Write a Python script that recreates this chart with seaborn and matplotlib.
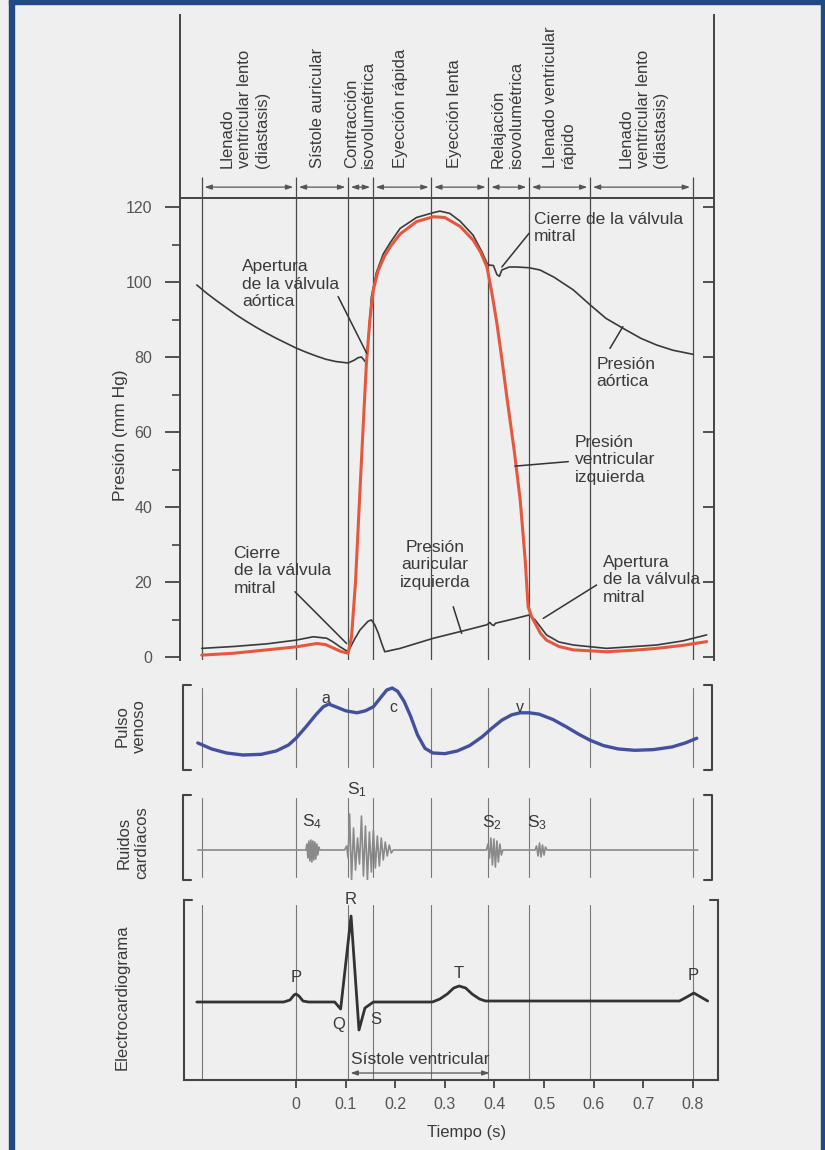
import matplotlib
matplotlib.use("Agg")
import numpy as np
import pandas as pd
import seaborn as sns
import matplotlib.pyplot as plt
from matplotlib.patches import Rectangle

# ---- datos (tiempo en s) ----
limites_fase = [-0.19, 0.0, 0.105, 0.155, 0.273, 0.388, 0.47, 0.593, 0.8]
fases = ["Llenado\nventricular lento\n(diastasis)", "Sístole auricular",
         "Contracción\nisovolumétrica", "Eyección rápida", "Eyección lenta",
         "Relajación\nisovolumétrica", "Llenado ventricular\nrápido",
         "Llenado\nventricular lento\n(diastasis)"]
fases_t = [-0.103, 0.044, 0.129, 0.21, 0.319, 0.426, 0.531, 0.70]

t_aorta = [-0.2, -0.18, -0.16, -0.14, -0.12, -0.1, -0.08, -0.06, -0.04, -0.02, 0.0,
           0.02, 0.04, 0.06, 0.08, 0.105, 0.118, 0.125, 0.132, 0.137, 0.142, 0.146,
           0.152, 0.162, 0.176, 0.19, 0.21, 0.243, 0.277, 0.29, 0.31, 0.331, 0.357,
           0.375, 0.385, 0.39, 0.398, 0.405, 0.41, 0.415, 0.43, 0.445, 0.47, 0.492,
           0.52, 0.559, 0.593, 0.625, 0.66, 0.695, 0.727, 0.76, 0.801]
p_aorta = [99.2, 97.0, 95.0, 93.1, 91.2, 89.5, 87.9, 86.4, 85.0, 83.7, 82.4,
           81.3, 80.3, 79.4, 78.8, 78.4, 79.2, 79.8, 80.0, 79.2, 78.4, 85.0,
           96.0, 102.5, 107.5, 110.5, 114.3, 117.2, 118.5, 118.9, 118.3, 116.2, 112.5,
           108.0, 105.0, 104.5, 104.4, 102.0, 101.5, 103.2, 104.0, 104.0, 103.8, 103.2,
           101.3, 97.9, 93.9, 90.3, 87.6, 85.0, 83.2, 81.8, 80.7]

t_vi = [-0.19, -0.126, -0.059, 0.0, 0.042, 0.06, 0.075, 0.09, 0.105, 0.112, 0.12,
        0.129, 0.136, 0.142, 0.149, 0.156, 0.165, 0.178, 0.19, 0.21, 0.243, 0.277,
        0.3, 0.331, 0.357, 0.372, 0.385, 0.395, 0.405, 0.415, 0.425, 0.44, 0.452,
        0.462, 0.468, 0.475, 0.482, 0.493, 0.505, 0.53, 0.559, 0.626, 0.68, 0.727,
        0.78, 0.828]
p_vi = [0.5, 1.0, 1.9, 2.7, 3.6, 3.3, 2.4, 1.5, 1.0, 5.4, 20.0,
        44.5, 63.0, 78.4, 90.0, 97.9, 102.8, 106.8, 109.4, 112.8, 116.1, 117.4,
        117.2, 114.8, 111.2, 108.0, 104.0, 97.0, 89.0, 79.5, 69.4, 55.0, 41.9,
        26.0, 13.4, 10.8, 9.0, 6.3, 4.5, 2.8, 1.9, 1.4, 1.8, 2.3,
        3.1, 4.1]

t_ai = [-0.19, -0.126, -0.059, 0.0, 0.035, 0.062, 0.075, 0.089, 0.105, 0.117, 0.129,
        0.145, 0.152, 0.159, 0.166, 0.173, 0.179, 0.21, 0.277, 0.344, 0.385, 0.391,
        0.395, 0.399, 0.402, 0.44, 0.47, 0.482, 0.505, 0.53, 0.559, 0.626, 0.727,
        0.78, 0.828]
p_ai = [2.3, 2.8, 3.5, 4.5, 5.4, 5.0, 4.0, 2.7, 1.4, 4.5, 7.2,
        9.5, 9.9, 8.5, 6.3, 3.5, 1.4, 2.3, 5.0, 7.2, 8.6, 9.2,
        8.6, 8.4, 9.0, 10.2, 11.2, 9.9, 5.9, 4.0, 3.2, 2.3, 3.2,
        4.3, 5.9]

t_venoso = [-0.198, -0.17, -0.14, -0.107, -0.07, -0.04, -0.015, 0.0, 0.02, 0.04, 0.055,
            0.066, 0.08, 0.1, 0.123, 0.14, 0.156, 0.17, 0.183, 0.194, 0.205, 0.218,
            0.231, 0.245, 0.26, 0.276, 0.3, 0.325, 0.35, 0.375, 0.395, 0.415, 0.435,
            0.452, 0.47, 0.49, 0.518, 0.545, 0.57, 0.593, 0.62, 0.65, 0.683, 0.72,
            0.758, 0.785, 0.808]
v_venoso = [0.18, 0.09, 0.03, 0.0, 0.01, 0.06, 0.15, 0.25, 0.42, 0.6, 0.72,
            0.76, 0.72, 0.66, 0.63, 0.66, 0.72, 0.85, 0.97, 1.0, 0.95, 0.8,
            0.58, 0.3, 0.1, 0.03, 0.02, 0.06, 0.14, 0.27, 0.40, 0.52, 0.6,
            0.63, 0.63, 0.61, 0.53, 0.42, 0.31, 0.22, 0.14, 0.09, 0.07, 0.08,
            0.12, 0.18, 0.25]

t_ruidos = [-0.198, 0.02, 0.022, 0.024, 0.026, 0.028, 0.03, 0.032, 0.034, 0.036, 0.038,
            0.04, 0.042, 0.044, 0.046, 0.048,
            0.098, 0.102, 0.105, 0.108, 0.112, 0.116, 0.12, 0.124, 0.128, 0.132, 0.136,
            0.14, 0.144, 0.148, 0.152, 0.156, 0.16, 0.164, 0.168, 0.172, 0.176, 0.18,
            0.184, 0.188, 0.192, 0.196,
            0.384, 0.387, 0.39, 0.393, 0.396, 0.399, 0.402, 0.405, 0.408, 0.411, 0.414, 0.417,
            0.482, 0.485, 0.488, 0.491, 0.494, 0.497, 0.5, 0.503, 0.506, 0.81]
a_ruidos = [0, 0, 6, -8, 9, -11, 10, -12, 9, -10, 8,
            -9, 6, -5, 3, 0,
            0, 4, -8, 36, -30, 22, -20, 12, -14, 34, -26,
            24, -30, 18, -22, 20, -18, 14, -16, 12, -10, 8,
            -6, 5, -3, 0,
            0, 6, -8, 12, -15, 11, -17, 9, -12, 6, -5, 0,
            0, 4, -6, 7, -7, 5, -5, 3, 0, 0]

t_ecg = [-0.2, -0.025, -0.012, -0.004, 0.0, 0.006, 0.014, 0.025, 0.078, 0.09, 0.111,
         0.127, 0.139, 0.156, 0.275, 0.29, 0.305, 0.318, 0.329, 0.342, 0.355, 0.37,
         0.382, 0.773, 0.788, 0.802, 0.816, 0.83]
e_ecg = [0, 0, 2, 7, 8, 6, 1, 0, 0, -7, 86,
         -28, -6, 0, 0, 3, 8, 14, 16, 14, 8, 3,
         1, 1, 5, 9, 5, 1]

x_ticks = [0, 0.1, 0.2, 0.3, 0.4, 0.5, 0.6, 0.7, 0.8]

# ---- estilo ----
sns.set_theme(style="white")
plt.rcParams["font.family"] = ["Liberation Sans", "DejaVu Sans"]
plt.rcParams["mathtext.fontset"] = "custom"
plt.rcParams["mathtext.rm"] = "Liberation Sans"
plt.rcParams["mathtext.it"] = "Liberation Sans"

TXT = "#3a3a3a"
GRIS = "#555555"
W, H = 825, 1150
X0, PXS = 296, 496  # pixel de t=0 y pixeles por segundo

fig = plt.figure(figsize=(8.25, 11.5), dpi=100, facecolor="#efefef")
for r in [(9, 0, 816, 4), (9, 0, 5, 1150), (821, 0, 4, 1150)]:
    fig.patches.append(Rectangle((r[0] / W, 1 - (r[1] + r[3]) / H), r[2] / W, r[3] / H,
                                 transform=fig.transFigure, color="#1f4a82", zorder=0))


def panel(x0, x1, y0, y1, ylim):
    ax = fig.add_axes([x0 / W, 1 - y1 / H, (x1 - x0) / W, (y1 - y0) / H])
    ax.set_facecolor("none")
    ax.set_xlim((x0 - X0) / PXS, (x1 - X0) / PXS)
    ax.set_ylim(*ylim)
    for s in ax.spines.values():
        s.set_visible(False)
    ax.set_xticks([])
    ax.set_yticks([])
    return ax


def linea(ax, x, y, **kw):
    sns.lineplot(x=x, y=y, ax=ax, estimator=None, sort=False, legend=False, **kw)
    ax.set_xlabel("")
    ax.set_ylabel("")


# ---- panel de presiones ----
ax = panel(180, 714, 15, 660, ((657 - 660) / 3.75, (657 - 15) / 3.75))
ax.spines["left"].set_visible(True)
ax.spines["right"].set_visible(True)
for s in ("left", "right"):
    ax.spines[s].set_color("#444444")
    ax.spines[s].set_linewidth(1.4)
ax.set_yticks(range(0, 121, 20))
ax.set_yticks(range(10, 120, 20), minor=True)
ax.tick_params(axis="y", which="major", left=True, direction="out", length=11, width=1.3,
               color="#444444", labelsize=11.5, labelcolor=GRIS, pad=9)
ax.tick_params(axis="y", which="minor", left=True, direction="out", length=6, width=1.2,
               color="#444444")
axr = ax.twinx()
axr.set_ylim(ax.get_ylim())
axr.set_yticks(range(0, 121, 20))
axr.set_yticklabels([])
for s in axr.spines.values():
    s.set_visible(False)
axr.tick_params(axis="y", right=True, direction="in", length=8, width=1.3, color="#444444")

ax.axhline(122.4, color="#444444", lw=1.4)
for b in limites_fase:
    ax.vlines(b, -1, 128, color="#4a4a4a", lw=0.9)
for b0, b1 in zip(limites_fase[:-1], limites_fase[1:]):
    ax.annotate("", xy=(b1, 125.3), xytext=(b0, 125.3),
                arrowprops=dict(arrowstyle="<|-|>,head_length=0.35,head_width=0.12",
                                color="#555555", lw=0.9, shrinkA=2, shrinkB=2))
for txt, t in zip(fases, fases_t):
    ax.text(t, 130.4, txt, rotation=90, ha="center", va="bottom", multialignment="left",
            fontsize=12, color=TXT, linespacing=1.2)

linea(ax, t_ai, p_ai, color="#3a3a3a", lw=1.2)
linea(ax, t_aorta, p_aorta, color="#3a3a3a", lw=1.2)
linea(ax, t_vi, p_vi, color="#e4583e", lw=2.2)

notas = [
    ("Apertura\nde la válvula\naórtica", -0.109, 106.1, "left", (0.085, 96.1, 0.1425, 81.0)),
    ("Cierre\nde la válvula\nmitral", -0.126, 29.6, "left", (-0.002, 17.4, 0.102, 3.6)),
    ("Presión\nauricular\nizquierda", 0.28, 31.2, "center", (0.317, 13.4, 0.334, 6.3)),
    ("Cierre de la válvula\nmitral", 0.479, 118.8, "left", (0.47, 113.0, 0.415, 104.0)),
    ("Presión\naórtica", 0.606, 80.0, "left", (0.633, 82.3, 0.659, 88.1)),
    ("Presión\nventricular\nizquierda", 0.5625, 59.2, "left", (0.549, 52.1, 0.4415, 50.9)),
    ("Apertura\nde la válvula\nmitral", 0.618, 27.2, "left", (0.606, 19.2, 0.4985, 10.3)),
]
for txt, t, p, ha, seg in notas:
    ax.text(t, p, txt, ha=ha, va="top", multialignment=ha, fontsize=12.5, color=TXT,
            linespacing=1.2)
    ax.plot([seg[0], seg[2]], [seg[1], seg[3]], color="#333333", lw=1.1)

fig.text(120 / W, 1 - 435 / H, "Presión (mm Hg)", rotation=90, ha="center", va="center",
         fontsize=12.5, color=TXT)


def corchetes(ax):
    d = 8 / (712 - 183)
    kw = dict(transform=ax.transAxes, clip_on=False, color="#444444", lw=1.5)
    ax.plot([d, 0, 0, d], [1, 1, 0, 0], **kw)
    ax.plot([1 - d, 1, 1, 1 - d], [1, 1, 0, 0], **kw)
    for b in limites_fase:
        ax.axvline(b, ymin=0.04, ymax=0.96, color="#777777", lw=0.8)


# ---- pulso venoso ----
axv = panel(183, 712, 685, 770, ((755 - 770) / 67, (755 - 685) / 67))
corchetes(axv)
linea(axv, t_venoso, v_venoso, color="#4350a0", lw=2.4)
for lab, t, v in [("a", 0.06, 0.836), ("c", 0.196, 0.716), ("v", 0.451, 0.716)]:
    axv.text(t, v, lab, ha="center", va="center", fontsize=11.5, color=TXT)
fig.text(131 / W, 1 - 726 / H, "Pulso\nvenoso", rotation=90, ha="center", va="center",
         fontsize=12, color=TXT, linespacing=1.2)

# ---- ruidos cardiacos ----
axs = panel(183, 712, 795, 880, (-30, 55))
corchetes(axs)
linea(axs, t_ruidos, a_ruidos, color="#8a8a8a", lw=1.2)
for lab, t, s in [("S$_4$", 0.032, 28), ("S$_1$", 0.123, 60), ("S$_2$", 0.395, 27),
                  ("S$_3$", 0.486, 27)]:
    axs.text(t, s, lab, ha="center", va="center", fontsize=12.5, color=TXT)
fig.text(133 / W, 1 - 843 / H, "Ruidos\ncardíacos", rotation=90, ha="center", va="center",
         fontsize=12, color=TXT, linespacing=1.2)

# ---- electrocardiograma ----
axe = panel(184, 718, 900, 1080, (-78, 102))
for s in ("left", "bottom", "right"):
    axe.spines[s].set_visible(True)
    axe.spines[s].set_color("#444444")
    axe.spines[s].set_linewidth(1.5)
d = 8 / (718 - 184)
axe.plot([0, d], [1, 1], transform=axe.transAxes, clip_on=False, color="#444444", lw=1.5)
axe.plot([1 - d, 1], [1, 1], transform=axe.transAxes, clip_on=False, color="#444444", lw=1.5)
for b in limites_fase:
    axe.axvline(b, ymin=0.0, ymax=0.97, color="#777777", lw=0.8)
linea(axe, t_ecg, e_ecg, color="#333333", lw=2.0)
for lab, t, e in [("P", 0.0, 24), ("R", 0.111, 102), ("Q", 0.086, -22), ("S", 0.16, -17),
                  ("T", 0.329, 29), ("P", 0.8, 27)]:
    axe.text(t, e, lab, ha="center", va="center", fontsize=12, color=TXT)
axe.text(0.25, -57, "Sístole ventricular", ha="center", va="center", fontsize=12.5, color=TXT)
axe.annotate("", xy=(0.39, -71), xytext=(0.11, -71),
             arrowprops=dict(arrowstyle="<|-|>,head_length=0.35,head_width=0.12",
                             color="#555555", lw=0.9, shrinkA=0, shrinkB=0))
axe.set_xticks(x_ticks)
axe.set_xticklabels([f"{v:g}" for v in x_ticks])
axe.tick_params(axis="x", bottom=True, direction="out", length=6, width=1.3,
                color="#444444", labelsize=11.5, labelcolor=GRIS, pad=6)
fig.text(467 / W, 1 - 1132 / H, "Tiempo (s)", ha="center", va="center",
         fontsize=12, color=TXT)
fig.text(122 / W, 1 - 997 / H, "Electrocardiograma", rotation=90, ha="center", va="center",
         fontsize=12, color=TXT)

fig.savefig("out.png", dpi=100, facecolor=fig.get_facecolor())
